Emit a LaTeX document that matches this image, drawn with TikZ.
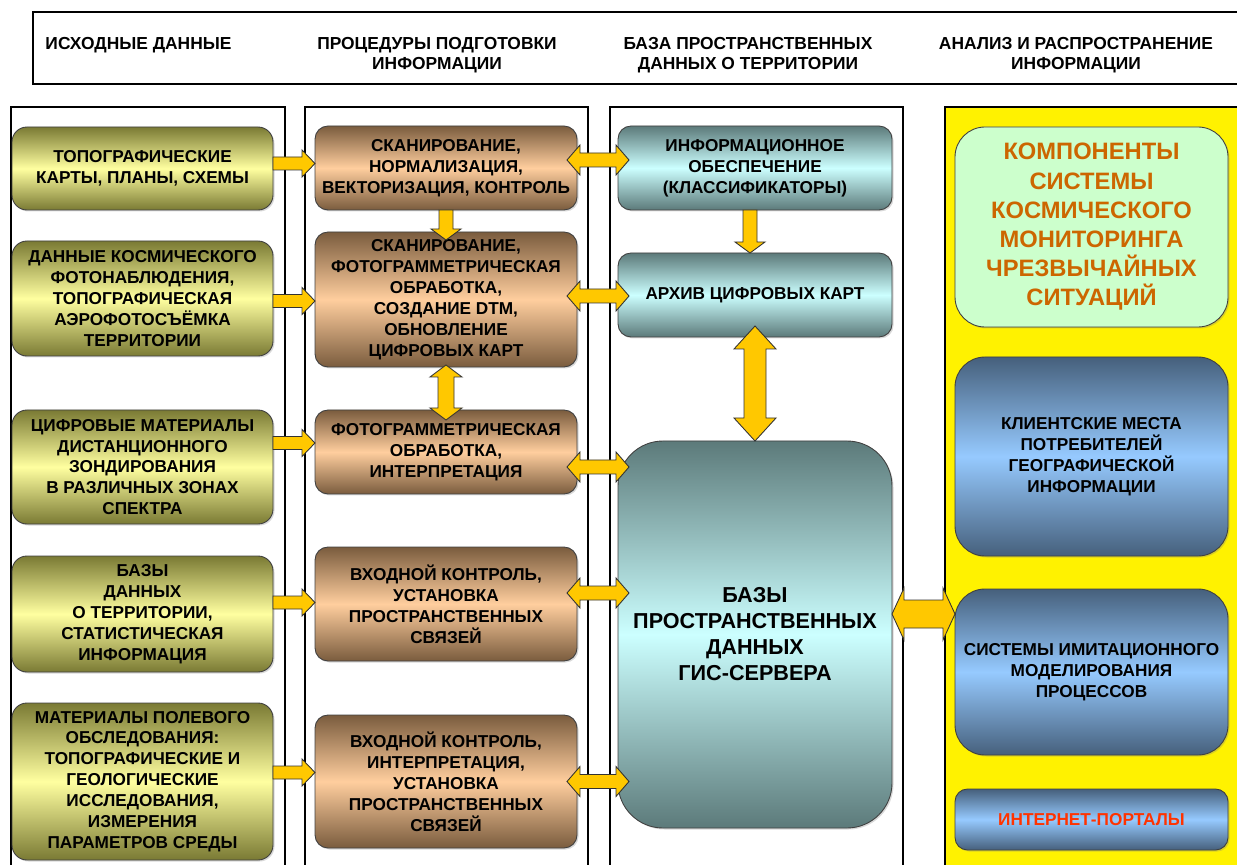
\documentclass[tikz,border=0pt]{standalone}
\usepackage{fontspec}
\setmainfont{Liberation Sans}
\usetikzlibrary{positioning,calc,shadows}

\definecolor{olivedk}{RGB}{122,122,52}
\definecolor{olivelt}{RGB}{255,255,160}
\definecolor{browndk}{RGB}{122,92,62}
\definecolor{brownlt}{RGB}{255,206,158}
\definecolor{tealdk}{RGB}{92,122,122}
\definecolor{teallt}{RGB}{204,255,255}
\definecolor{bluedk}{RGB}{70,96,124}
\definecolor{bluelt}{RGB}{150,202,255}
\definecolor{mintlt}{RGB}{204,255,204}
\definecolor{arrowgold}{RGB}{255,200,0}
\definecolor{titleorange}{RGB}{204,102,0}
\definecolor{portalred}{RGB}{255,51,0}

\newcommand{\boxfont}{\fontsize{9.8}{11.9}\selectfont\bfseries}

\tikzset{
    box/.style={draw=black!75, line width=0.5pt, rounded corners=0.3cm, align=center,
        inner sep=2pt, outer sep=0pt, font=\boxfont,
        drop shadow={shadow xshift=0.03cm, shadow yshift=-0.03cm, opacity=0.3}},
    srcbox/.style={box, minimum width=5.22cm, top color=olivedk, bottom color=olivedk, middle color=olivelt},
    procbox/.style={box, rounded corners=0.26cm, minimum width=5.24cm, top color=browndk, bottom color=browndk, middle color=brownlt},
    basebox/.style={box, rounded corners=0.26cm, minimum width=5.48cm, top color=tealdk, bottom color=tealdk, middle color=teallt},
    usebox/.style={box, rounded corners=0.6cm, minimum width=5.46cm, top color=bluedk, bottom color=bluedk, middle color=bluelt},
    header/.style={align=center, anchor=north, font=\fontsize{9.9}{11.4}\selectfont\bfseries},
    panel/.style={draw=black, line width=0.6pt},
    fat/.style={fill=arrowgold, draw=black!80, line width=0.5pt},
    % block arrows: shaft half width, head half width, head length
    harr/.style n args={3}{fat, to path={let \p1=(\tikztostart), \p2=(\tikztotarget) in
        (\x1,\y1+#1) -- (\x2-#3,\y1+#1) -- (\x2-#3,\y1+#2) -- (\x2,\y1)
        -- (\x2-#3,\y1-#2) -- (\x2-#3,\y1-#1) -- (\x1,\y1-#1) -- cycle}},
    hdarr/.style n args={3}{fat, to path={let \p1=(\tikztostart), \p2=(\tikztotarget) in
        (\x1,\y1) -- (\x1+#3,\y1+#2) -- (\x1+#3,\y1+#1) -- (\x2-#3,\y1+#1) -- (\x2-#3,\y1+#2) -- (\x2,\y1)
        -- (\x2-#3,\y1-#2) -- (\x2-#3,\y1-#1) -- (\x1+#3,\y1-#1) -- (\x1+#3,\y1-#2) -- cycle}},
    varr/.style n args={3}{fat, to path={let \p1=(\tikztostart), \p2=(\tikztotarget) in
        (\x1+#1,\y1) -- (\x1+#1,\y2+#3) -- (\x1+#2,\y2+#3) -- (\x1,\y2)
        -- (\x1-#2,\y2+#3) -- (\x1-#1,\y2+#3) -- (\x1-#1,\y1) -- cycle}},
    vdarr/.style n args={3}{fat, to path={let \p1=(\tikztostart), \p2=(\tikztotarget) in
        (\x1,\y1) -- (\x1+#2,\y1-#3) -- (\x1+#1,\y1-#3) -- (\x1+#1,\y2+#3) -- (\x1+#2,\y2+#3) -- (\x1,\y2)
        -- (\x1-#2,\y2+#3) -- (\x1-#1,\y2+#3) -- (\x1-#1,\y1-#3) -- (\x1-#2,\y1-#3) -- cycle}},
    link/.style={harr={0.13cm}{0.27cm}{0.26cm}},
    dlink/.style={hdarr={0.14cm}{0.30cm}{0.26cm}},
    vlink/.style={varr={0.14cm}{0.30cm}{0.22cm}},
    vdlink/.style={vdarr={0.16cm}{0.32cm}{0.24cm}},
    biglink/.style={vdarr={0.22cm}{0.42cm}{0.46cm}},
    sidelink/.style={hdarr={0.28cm}{0.52cm}{0.24cm}}
}

\begin{document}
\begin{tikzpicture}
    \clip (0,0) rectangle (24.74,-17.30);

    % header and column frames
    \draw[panel] (0.66,-0.24) rectangle (25,-1.68);
    \draw[panel] (0.22,-2.14) rectangle (5.70,-17.6);
    \draw[panel] (6.10,-2.14) rectangle (11.76,-17.6);
    \draw[panel] (12.20,-2.14) rectangle (18.06,-17.6);
    \draw[panel, fill=yellow] (18.90,-2.14) rectangle (25,-17.6);

    \node[header] (h1) at (2.77,-0.62) {ИСХОДНЫЕ ДАННЫЕ};
    \node[header] (h2) at (8.74,-0.62) {ПРОЦЕДУРЫ ПОДГОТОВКИ\\ИНФОРМАЦИИ};
    \node[header] (h3) at (14.96,-0.62) {БАЗА ПРОСТРАНСТВЕННЫХ\\ДАННЫХ О ТЕРРИТОРИИ};
    \node[header] (h4) at (21.52,-0.62) {АНАЛИЗ И РАСПРОСТРАНЕНИЕ\\ИНФОРМАЦИИ};

    % source data
    \node[srcbox, minimum height=1.66cm, anchor=north] (t1) at (2.85,-2.54) {ТОПОГРАФИЧЕСКИЕ\\КАРТЫ, ПЛАНЫ, СХЕМЫ};
    \node[srcbox, minimum height=2.30cm, below=0.62cm of t1] (t2) {ДАННЫЕ КОСМИЧЕСКОГО\\ФОТОНАБЛЮДЕНИЯ,\\ТОПОГРАФИЧЕСКАЯ\\АЭРОФОТОСЪЁМКА\\ТЕРРИТОРИИ};
    \node[srcbox, minimum height=2.28cm, below=1.08cm of t2] (t3) {ЦИФРОВЫЕ МАТЕРИАЛЫ\\ДИСТАНЦИОННОГО\\ЗОНДИРОВАНИЯ\\В РАЗЛИЧНЫХ ЗОНАХ\\СПЕКТРА};
    \node[srcbox, minimum height=2.32cm, below=0.64cm of t3] (t4) {БАЗЫ\\ДАННЫХ\\О ТЕРРИТОРИИ,\\СТАТИСТИЧЕСКАЯ\\ИНФОРМАЦИЯ};
    \node[srcbox, minimum height=3.14cm, below=0.62cm of t4] (t5) {МАТЕРИАЛЫ ПОЛЕВОГО\\ОБСЛЕДОВАНИЯ:\\ТОПОГРАФИЧЕСКИЕ И\\ГЕОЛОГИЧЕСКИЕ\\ИССЛЕДОВАНИЯ,\\ИЗМЕРЕНИЯ\\ПАРАМЕТРОВ СРЕДЫ};

    % preparation procedures
    \node[procbox, minimum height=1.68cm, anchor=north] (p1) at (8.92,-2.52) {СКАНИРОВАНИЕ,\\НОРМАЛИЗАЦИЯ,\\ВЕКТОРИЗАЦИЯ, КОНТРОЛЬ};
    \node[procbox, minimum height=2.70cm, below=0.44cm of p1] (p2) {СКАНИРОВАНИЕ,\\ФОТОГРАММЕТРИЧЕСКАЯ\\ОБРАБОТКА,\\СОЗДАНИЕ DTM,\\ОБНОВЛЕНИЕ\\ЦИФРОВЫХ КАРТ};
    \node[procbox, minimum height=1.68cm, below=0.86cm of p2] (p3) {ФОТОГРАММЕТРИЧЕСКАЯ\\ОБРАБОТКА,\\ИНТЕРПРЕТАЦИЯ};
    \node[procbox, minimum height=2.28cm, below=1.06cm of p3] (p4) {ВХОДНОЙ КОНТРОЛЬ,\\УСТАНОВКА\\ПРОСТРАНСТВЕННЫХ\\СВЯЗЕЙ};
    \node[procbox, minimum height=2.66cm, below=1.08cm of p4] (p5) {ВХОДНОЙ КОНТРОЛЬ,\\ИНТЕРПРЕТАЦИЯ,\\УСТАНОВКА\\ПРОСТРАНСТВЕННЫХ\\СВЯЗЕЙ};

    % spatial database
    \node[basebox, minimum height=1.68cm, anchor=north] (g1) at (15.10,-2.52) {ИНФОРМАЦИОННОЕ\\ОБЕСПЕЧЕНИЕ\\(КЛАССИФИКАТОРЫ)};
    \node[basebox, minimum height=1.68cm, below=0.86cm of g1] (g2) {АРХИВ ЦИФРОВЫХ КАРТ};
    \node[basebox, minimum height=7.74cm, below=2.08cm of g2, rounded corners=0.9cm,
        font=\fontsize{12.3}{14.8}\selectfont\bfseries] (g3) {БАЗЫ\\ПРОСТРАНСТВЕННЫХ\\ДАННЫХ\\ГИС-СЕРВЕРА};

    % analysis and distribution
    \node[box, rounded corners=0.6cm, minimum width=5.46cm, minimum height=4.00cm, anchor=north,
        fill=mintlt, text=titleorange, font=\fontsize{13.5}{16.6}\selectfont\bfseries] (r1) at (21.83,-2.54)
        {КОМПОНЕНТЫ\\СИСТЕМЫ\\КОСМИЧЕСКОГО\\МОНИТОРИНГА\\ЧРЕЗВЫЧАЙНЫХ\\СИТУАЦИЙ};
    \node[usebox, minimum height=3.98cm, below=0.60cm of r1] (r2) {КЛИЕНТСКИЕ МЕСТА\\ПОТРЕБИТЕЛЕЙ\\ГЕОГРАФИЧЕСКОЙ\\ИНФОРМАЦИИ};
    \node[usebox, minimum height=3.32cm, below=0.66cm of r2] (r3) {СИСТЕМЫ ИМИТАЦИОННОГО\\МОДЕЛИРОВАНИЯ\\ПРОЦЕССОВ};
    \node[usebox, rounded corners=0.25cm, minimum height=1.22cm, below=0.68cm of r3, text=portalred] (r4) {ИНТЕРНЕТ-ПОРТАЛЫ};

    % arrows
    \draw[link] ([yshift=0.10cm]t1.east) to (p1.west);
    \draw[link] ([yshift=-0.05cm]t2.east) to (p2.west);
    \draw[link] ([yshift=0.48cm]t3.east) to (p3.west);
    \draw[link] ([yshift=0.23cm]t4.east) to (p4.west);
    \draw[link] ([yshift=0.18cm]t5.east) to (p5.west);

    \draw[dlink] ([xshift=-0.2cm,yshift=0.16cm]p1.east) to ([xshift=0.22cm]g1.west);
    \draw[dlink] ([xshift=-0.2cm,yshift=0.07cm]p2.east) to ([xshift=0.22cm]g2.west);
    \draw[dlink] ([xshift=-0.2cm,yshift=-0.30cm]p3.east) to ([xshift=0.22cm]g3.west);
    \draw[dlink] ([xshift=-0.2cm,yshift=0.22cm]p4.east) to ([xshift=0.22cm]g3.west);
    \draw[dlink] ([xshift=-0.2cm]p5.east) to ([xshift=0.22cm]g3.west);

    \draw[vlink] (p1.south) to ([yshift=-0.16cm]p2.north);
    \draw[vdlink] ([yshift=0.04cm]p2.south) to ([yshift=-0.2cm]p3.north);
    \draw[vlink] ([xshift=-0.1cm]g1.south) to (g2.north);
    \draw[biglink] ([yshift=0.22cm]g2.south) to (g3.north);
    \draw[sidelink] ([yshift=0.41cm]g3.east) to (r3.west);
\end{tikzpicture}
\end{document}
